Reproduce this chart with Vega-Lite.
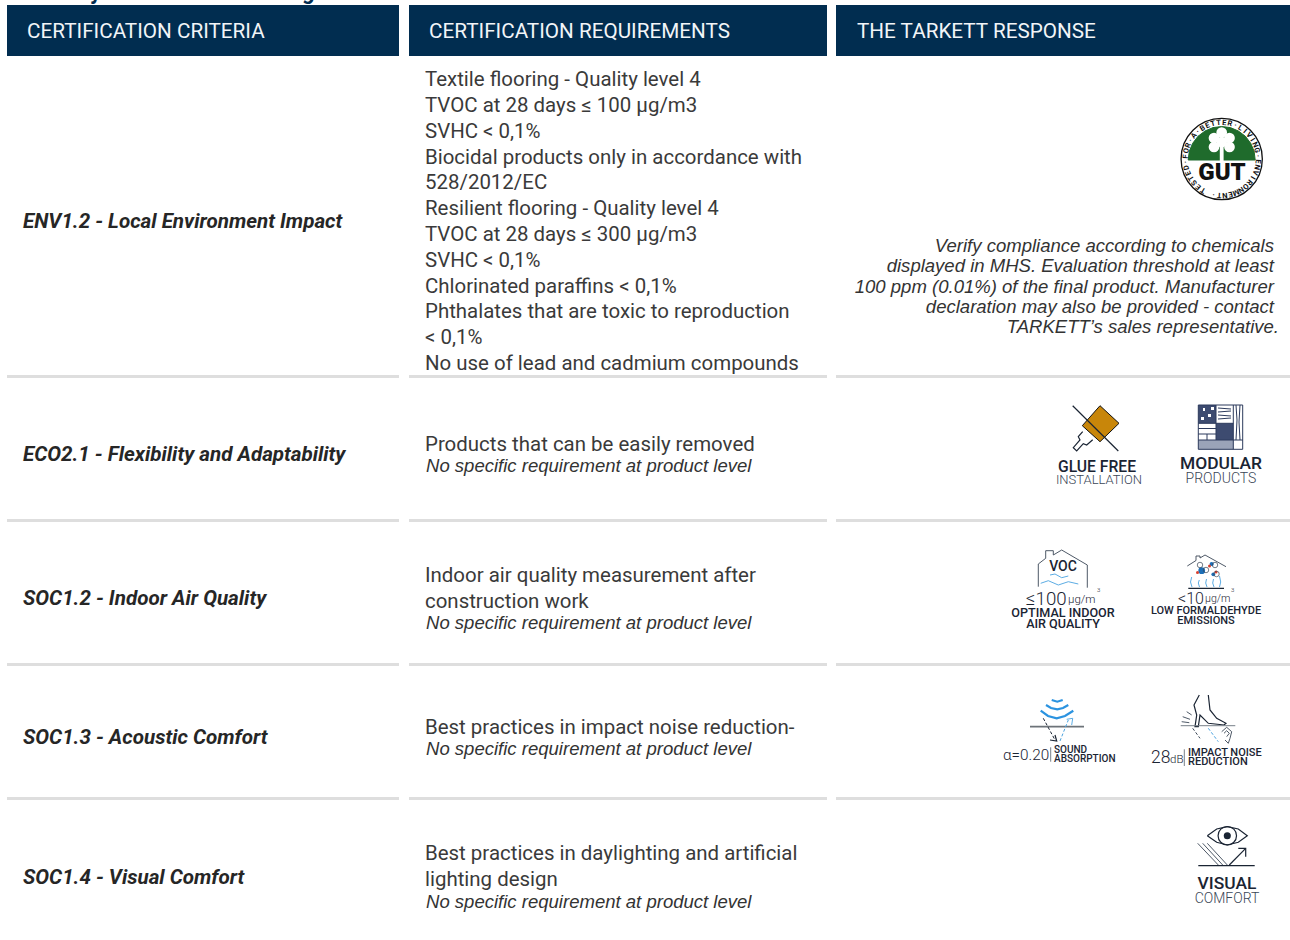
{
"$schema":"https://vega.github.io/schema/vega-lite/v6.json",
"width":1290,"height":940,"padding":0,"autosize":{"type":"none"},"background":"#ffffff",
"config":{"view":{"stroke":null}},
"resolve":{"scale":{"color":"independent","fill":"independent","size":"independent","strokeWidth":"independent"}},
"datasets":{
"panels":[
{"x":7,"x2":399,"y":5,"y2":56,"part":"head"},{"x":409,"x2":827,"y":5,"y2":56,"part":"head"},{"x":836,"x2":1290,"y":5,"y2":56,"part":"head"},
{"x":7,"x2":399,"y":375,"y2":378,"part":"rule"},{"x":409,"x2":827,"y":375,"y2":378,"part":"rule"},{"x":836,"x2":1290,"y":375,"y2":378,"part":"rule"},
{"x":7,"x2":399,"y":519,"y2":522,"part":"rule"},{"x":409,"x2":827,"y":519,"y2":522,"part":"rule"},{"x":836,"x2":1290,"y":519,"y2":522,"part":"rule"},
{"x":7,"x2":399,"y":663,"y2":666,"part":"rule"},{"x":409,"x2":827,"y":663,"y2":666,"part":"rule"},{"x":836,"x2":1290,"y":663,"y2":666,"part":"rule"},
{"x":7,"x2":399,"y":797,"y2":800,"part":"rule"},{"x":409,"x2":827,"y":797,"y2":800,"part":"rule"},{"x":836,"x2":1290,"y":797,"y2":800,"part":"rule"}
],
"tiles":[
{"x":1198.3,"x2":1216,"y":405,"y2":423.3,"part":"dark"},
{"x":1216,"x2":1233.3,"y":423.3,"y2":440,"part":"dark"},
{"x":1198.3,"x2":1233.3,"y":440,"y2":449.3,"part":"pale"},
{"x":1219.8,"x2":1223.6,"y":146,"y2":164,"part":"white"},
{"x":1203,"x2":1205,"y":408,"y2":411,"part":"white"},
{"x":1208,"x2":1211,"y":414,"y2":417,"part":"white"},
{"x":1201,"x2":1204,"y":417,"y2":420,"part":"white"},
{"x":1211,"x2":1214,"y":407,"y2":410,"part":"white"}
],
"discs":[
{"x":1227.3,"y":835.7,"kind":"pupil"}
],
"blobs":[
{"x":1221.7,"y":132.5,"kind":"leaf"},{"x":1214,"y":138,"kind":"leaf"},{"x":1229.5,"y":138,"kind":"leaf"},{"x":1214,"y":147,"kind":"leaf"},{"x":1229.5,"y":147,"kind":"leaf"},{"x":1221.7,"y":142,"kind":"leaf"},
{"x":1201.7,"y":570.7,"kind":"molBig"},{"x":1211.7,"y":564,"kind":"molMid"},{"x":1213.3,"y":574.3,"kind":"molSmall"},
{"x":1197.5,"y":572.5,"kind":"red"},{"x":1209.5,"y":566,"kind":"red"},{"x":1216,"y":572,"kind":"red"}
],
"rings":[
{"x":1221.7,"y":159,"kind":"seal"},
{"x":1227.3,"y":835.7,"kind":"iris"},
{"x":1200,"y":565,"kind":"bubble"},{"x":1215,"y":565,"kind":"bubble"},{"x":1206,"y":570,"kind":"bubble"},{"x":1216.5,"y":574,"kind":"bubble"}
],
"fills":[
{"seg":"green","i":1,"x":1188.2,"y":160,"tone":"green"},{"seg":"green","i":2,"x":1189.3,"y":151.3,"tone":"green"},{"seg":"green","i":3,"x":1192.7,"y":143.3,"tone":"green"},{"seg":"green","i":4,"x":1198,"y":136.3,"tone":"green"},{"seg":"green","i":5,"x":1205,"y":131,"tone":"green"},{"seg":"green","i":6,"x":1213,"y":127.6,"tone":"green"},{"seg":"green","i":7,"x":1221.7,"y":126.5,"tone":"green"},{"seg":"green","i":8,"x":1230.4,"y":127.6,"tone":"green"},{"seg":"green","i":9,"x":1238.4,"y":131,"tone":"green"},{"seg":"green","i":10,"x":1245.4,"y":136.3,"tone":"green"},{"seg":"green","i":11,"x":1250.7,"y":143.3,"tone":"green"},{"seg":"green","i":12,"x":1254.1,"y":151.3,"tone":"green"},{"seg":"green","i":13,"x":1255.2,"y":160,"tone":"green"},{"seg":"green","i":14,"x":1188.2,"y":160,"tone":"green"},
{"seg":"glue","i":1,"x":1100,"y":405.7,"tone":"glue"},{"seg":"glue","i":2,"x":1119,"y":423.3,"tone":"glue"},{"seg":"glue","i":3,"x":1100,"y":441.7,"tone":"glue"},{"seg":"glue","i":4,"x":1082.3,"y":425.7,"tone":"glue"},{"seg":"glue","i":5,"x":1100,"y":405.7,"tone":"glue"}
],
"strokes":[
{"seg":"cross","i":1,"x":1072.7,"y":405.7,"pen":"ink"},{"seg":"cross","i":2,"x":1118.3,"y":451,"pen":"ink"},
{"seg":"nozzle","i":1,"x":1082.7,"y":431.7,"pen":"ink"},{"seg":"nozzle","i":2,"x":1078.3,"y":436.7,"pen":"ink"},{"seg":"nozzle","i":3,"x":1080,"y":440,"pen":"ink"},{"seg":"nozzle","i":4,"x":1073.3,"y":447.7,"pen":"ink"},{"seg":"nozzle","i":5,"x":1076.7,"y":451,"pen":"ink"},{"seg":"nozzle","i":6,"x":1083.3,"y":443.7,"pen":"ink"},{"seg":"nozzle","i":7,"x":1086.7,"y":445,"pen":"ink"},{"seg":"nozzle","i":8,"x":1092.7,"y":439.7,"pen":"ink"},
{"seg":"mod1","i":1,"x":1198.3,"y":405,"pen":"navy"},{"seg":"mod1","i":2,"x":1242.7,"y":405,"pen":"navy"},{"seg":"mod1","i":3,"x":1242.7,"y":449.3,"pen":"navy"},{"seg":"mod1","i":4,"x":1198.3,"y":449.3,"pen":"navy"},{"seg":"mod1","i":5,"x":1198.3,"y":405,"pen":"navy"},
{"seg":"mod2","i":1,"x":1233.3,"y":405,"pen":"navy"},{"seg":"mod2","i":2,"x":1233.3,"y":449.3,"pen":"navy"},
{"seg":"mod3","i":1,"x":1216,"y":405,"pen":"navy"},{"seg":"mod3","i":2,"x":1216,"y":440,"pen":"navy"},
{"seg":"mod4","i":1,"x":1198.3,"y":423.3,"pen":"navy"},{"seg":"mod4","i":2,"x":1233.3,"y":423.3,"pen":"navy"},
{"seg":"mod5","i":1,"x":1198.3,"y":440,"pen":"navy"},{"seg":"mod5","i":2,"x":1242.7,"y":440,"pen":"navy"},
{"seg":"mod6","i":1,"x":1198.3,"y":428.5,"pen":"navy"},{"seg":"mod6","i":2,"x":1216,"y":428.5,"pen":"navy"},
{"seg":"mod7","i":1,"x":1198.3,"y":434,"pen":"navy"},{"seg":"mod7","i":2,"x":1216,"y":434,"pen":"navy"},
{"seg":"mod8","i":1,"x":1207,"y":434,"pen":"navy"},{"seg":"mod8","i":2,"x":1207,"y":440,"pen":"navy"},
{"seg":"mod9","i":1,"x":1218,"y":408,"pen":"navy"},{"seg":"mod9","i":2,"x":1231,"y":409,"pen":"navy"},
{"seg":"mod10","i":1,"x":1218,"y":412,"pen":"navy"},{"seg":"mod10","i":2,"x":1231,"y":411,"pen":"navy"},
{"seg":"mod11","i":1,"x":1218,"y":415,"pen":"navy"},{"seg":"mod11","i":2,"x":1231,"y":416,"pen":"navy"},
{"seg":"mod12","i":1,"x":1218,"y":419,"pen":"navy"},{"seg":"mod12","i":2,"x":1231,"y":418,"pen":"navy"},
{"seg":"mod13","i":1,"x":1236,"y":405,"pen":"navy"},{"seg":"mod13","i":2,"x":1237,"y":420,"pen":"navy"},{"seg":"mod13","i":3,"x":1236,"y":440,"pen":"navy"},
{"seg":"mod14","i":1,"x":1240,"y":405,"pen":"navy"},{"seg":"mod14","i":2,"x":1239,"y":422,"pen":"navy"},{"seg":"mod14","i":3,"x":1240,"y":440,"pen":"navy"},
{"seg":"house","i":1,"x":1038.3,"y":586.7,"pen":"slate"},{"seg":"house","i":2,"x":1038.3,"y":564,"pen":"slate"},{"seg":"house","i":3,"x":1045.7,"y":558.3,"pen":"slate"},{"seg":"house","i":4,"x":1045.7,"y":550.7,"pen":"slate"},{"seg":"house","i":5,"x":1053.3,"y":550.7,"pen":"slate"},{"seg":"house","i":6,"x":1053.3,"y":555,"pen":"slate"},{"seg":"house","i":7,"x":1061.7,"y":550,"pen":"slate"},{"seg":"house","i":8,"x":1087.3,"y":565,"pen":"slate"},{"seg":"house","i":9,"x":1087.3,"y":587.7,"pen":"slate"},
{"seg":"wave1","i":1,"x":1050,"y":575,"pen":"blue"},{"seg":"wave1","i":2,"x":1055,"y":574,"pen":"blue"},{"seg":"wave1","i":3,"x":1061.7,"y":577.7,"pen":"blue"},{"seg":"wave1","i":4,"x":1068.3,"y":576,"pen":"blue"},
{"seg":"wave2","i":1,"x":1040.7,"y":583.3,"pen":"blue"},{"seg":"wave2","i":2,"x":1048.3,"y":580.7,"pen":"blue"},{"seg":"wave2","i":3,"x":1058.3,"y":585,"pen":"blue"},{"seg":"wave2","i":4,"x":1068.3,"y":581.7,"pen":"blue"},{"seg":"wave2","i":5,"x":1078.3,"y":584,"pen":"blue"},
{"seg":"roof","i":1,"x":1187.3,"y":566,"pen":"slate"},{"seg":"roof","i":2,"x":1196,"y":560.5,"pen":"slate"},{"seg":"roof","i":3,"x":1196,"y":556,"pen":"slate"},{"seg":"roof","i":4,"x":1200,"y":556,"pen":"slate"},{"seg":"roof","i":5,"x":1200,"y":558,"pen":"slate"},{"seg":"roof","i":6,"x":1205,"y":555,"pen":"slate"},{"seg":"roof","i":7,"x":1226,"y":566.7,"pen":"slate"},
{"seg":"floorA","i":1,"x":1188.3,"y":588.3,"pen":"ink"},{"seg":"floorA","i":2,"x":1224,"y":588.3,"pen":"ink"},
{"seg":"v1","i":1,"x":1191.7,"y":577,"pen":"blue"},{"seg":"v1","i":2,"x":1190.5,"y":582,"pen":"blue"},{"seg":"v1","i":3,"x":1192,"y":587,"pen":"blue"},
{"seg":"v2","i":1,"x":1199.3,"y":580,"pen":"blue"},{"seg":"v2","i":2,"x":1198.3,"y":583,"pen":"blue"},{"seg":"v2","i":3,"x":1199.5,"y":587,"pen":"blue"},
{"seg":"v3","i":1,"x":1206.5,"y":579,"pen":"blue"},{"seg":"v3","i":2,"x":1205.7,"y":583,"pen":"blue"},{"seg":"v3","i":3,"x":1207,"y":587,"pen":"blue"},
{"seg":"v4","i":1,"x":1213.5,"y":579,"pen":"blue"},{"seg":"v4","i":2,"x":1212.7,"y":583,"pen":"blue"},{"seg":"v4","i":3,"x":1214,"y":587,"pen":"blue"},
{"seg":"v5","i":1,"x":1219.5,"y":576,"pen":"blue"},{"seg":"v5","i":2,"x":1220.7,"y":582,"pen":"blue"},{"seg":"v5","i":3,"x":1219.5,"y":587,"pen":"blue"},
{"seg":"arc1","i":1,"x":1040.7,"y":710.7,"pen":"blueBold"},{"seg":"arc1","i":2,"x":1048,"y":716,"pen":"blueBold"},{"seg":"arc1","i":3,"x":1056.7,"y":718.3,"pen":"blueBold"},{"seg":"arc1","i":4,"x":1065,"y":716,"pen":"blueBold"},{"seg":"arc1","i":5,"x":1073.3,"y":710.7,"pen":"blueBold"},
{"seg":"arc2","i":1,"x":1046,"y":705,"pen":"blueBold"},{"seg":"arc2","i":2,"x":1051,"y":708,"pen":"blueBold"},{"seg":"arc2","i":3,"x":1057.3,"y":709.3,"pen":"blueBold"},{"seg":"arc2","i":4,"x":1063,"y":708,"pen":"blueBold"},{"seg":"arc2","i":5,"x":1068.3,"y":705,"pen":"blueBold"},
{"seg":"arc3","i":1,"x":1051.7,"y":700,"pen":"blueBold"},{"seg":"arc3","i":2,"x":1057.3,"y":701.7,"pen":"blueBold"},{"seg":"arc3","i":3,"x":1062.7,"y":700,"pen":"blueBold"},
{"seg":"floorB","i":1,"x":1030,"y":726.7,"pen":"grayBold"},{"seg":"floorB","i":2,"x":1084,"y":726.7,"pen":"grayBold"},
{"seg":"headB","i":1,"x":1050,"y":740,"pen":"ink"},{"seg":"headB","i":2,"x":1056.7,"y":741,"pen":"ink"},{"seg":"headB","i":3,"x":1055,"y":735,"pen":"ink"},
{"seg":"headC","i":1,"x":1066.7,"y":719.3,"pen":"blue"},{"seg":"headC","i":2,"x":1072.7,"y":718.3,"pen":"blue"},{"seg":"headC","i":3,"x":1071.7,"y":725,"pen":"blue"},
{"seg":"divA","i":1,"x":1050.7,"y":747.3,"pen":"gray"},{"seg":"divA","i":2,"x":1050.7,"y":761.7,"pen":"gray"},
{"seg":"divB","i":1,"x":1184.3,"y":749.3,"pen":"gray"},{"seg":"divB","i":2,"x":1184.3,"y":766,"pen":"gray"},
{"seg":"shoe","i":1,"x":1199.3,"y":695,"pen":"ink"},{"seg":"shoe","i":2,"x":1194,"y":705,"pen":"ink"},{"seg":"shoe","i":3,"x":1196.7,"y":715,"pen":"ink"},{"seg":"shoe","i":4,"x":1195,"y":726.7,"pen":"ink"},{"seg":"shoe","i":5,"x":1198.3,"y":726.7,"pen":"ink"},{"seg":"shoe","i":6,"x":1200,"y":715,"pen":"ink"},{"seg":"shoe","i":7,"x":1208.3,"y":723.3,"pen":"ink"},{"seg":"shoe","i":8,"x":1224,"y":725,"pen":"ink"},{"seg":"shoe","i":9,"x":1226,"y":723.3,"pen":"ink"},{"seg":"shoe","i":10,"x":1216.7,"y":718.3,"pen":"ink"},{"seg":"shoe","i":11,"x":1210,"y":710,"pen":"ink"},{"seg":"shoe","i":12,"x":1208.3,"y":695,"pen":"ink"},
{"seg":"floorC","i":1,"x":1180.7,"y":725.7,"pen":"gray"},{"seg":"floorC","i":2,"x":1235.3,"y":725.7,"pen":"gray"},
{"seg":"tick1","i":1,"x":1186.7,"y":711.7,"pen":"slate"},{"seg":"tick1","i":2,"x":1191.7,"y":715,"pen":"slate"},
{"seg":"tick2","i":1,"x":1182.7,"y":716.7,"pen":"slate"},{"seg":"tick2","i":2,"x":1190,"y":719.3,"pen":"slate"},
{"seg":"tick3","i":1,"x":1181.7,"y":721.7,"pen":"slate"},{"seg":"tick3","i":2,"x":1189.3,"y":722.7,"pen":"slate"},
{"seg":"ear","i":1,"x":1221.7,"y":731.7,"pen":"slate"},{"seg":"ear","i":2,"x":1226.7,"y":727.3,"pen":"slate"},{"seg":"ear","i":3,"x":1231.7,"y":731.7,"pen":"slate"},{"seg":"ear","i":4,"x":1230,"y":738.3,"pen":"slate"},{"seg":"ear","i":5,"x":1228.3,"y":743.3,"pen":"slate"},{"seg":"ear","i":6,"x":1225,"y":740,"pen":"slate"},
{"seg":"earIn","i":1,"x":1224,"y":733.3,"pen":"slate"},{"seg":"earIn","i":2,"x":1226.7,"y":730.7,"pen":"slate"},{"seg":"earIn","i":3,"x":1229.3,"y":733.3,"pen":"slate"},{"seg":"earIn","i":4,"x":1226.7,"y":736.7,"pen":"slate"},
{"seg":"eye","i":1,"x":1207.3,"y":835.7,"pen":"ink"},{"seg":"eye","i":2,"x":1216.7,"y":829,"pen":"ink"},{"seg":"eye","i":3,"x":1227.3,"y":826.7,"pen":"ink"},{"seg":"eye","i":4,"x":1238.3,"y":829,"pen":"ink"},{"seg":"eye","i":5,"x":1247.3,"y":835.7,"pen":"ink"},{"seg":"eye","i":6,"x":1238.3,"y":842.3,"pen":"ink"},{"seg":"eye","i":7,"x":1227.3,"y":845,"pen":"ink"},{"seg":"eye","i":8,"x":1216.7,"y":842.3,"pen":"ink"},{"seg":"eye","i":9,"x":1207.3,"y":835.7,"pen":"ink"},
{"seg":"ray1","i":1,"x":1197.7,"y":843.3,"pen":"slate"},{"seg":"ray1","i":2,"x":1218.3,"y":865,"pen":"slate"},
{"seg":"ray2","i":1,"x":1202.7,"y":843.3,"pen":"slate"},{"seg":"ray2","i":2,"x":1222.7,"y":865,"pen":"slate"},
{"seg":"ray3","i":1,"x":1207.3,"y":843.3,"pen":"slate"},{"seg":"ray3","i":2,"x":1227.3,"y":865,"pen":"slate"},
{"seg":"floorD","i":1,"x":1198.3,"y":865.7,"pen":"ink"},{"seg":"floorD","i":2,"x":1254.7,"y":865.7,"pen":"ink"},
{"seg":"arrow","i":1,"x":1229.3,"y":865,"pen":"ink"},{"seg":"arrow","i":2,"x":1245.7,"y":848.3,"pen":"ink"},
{"seg":"arrowH","i":1,"x":1238.3,"y":848.3,"pen":"ink"},{"seg":"arrowH","i":2,"x":1245.7,"y":848.3,"pen":"ink"},{"seg":"arrowH","i":3,"x":1245.7,"y":856.7,"pen":"ink"}
],
"dashes":[
{"seg":"d1","i":1,"x":1043.3,"y":718.3,"pen":"ink"},{"seg":"d1","i":2,"x":1055,"y":740,"pen":"ink"},
{"seg":"d2","i":1,"x":1060,"y":741,"pen":"blue"},{"seg":"d2","i":2,"x":1068.3,"y":720,"pen":"blue"},
{"seg":"d3","i":1,"x":1192.7,"y":728.3,"pen":"slate"},{"seg":"d3","i":2,"x":1200,"y":738.3,"pen":"slate"},
{"seg":"d4","i":1,"x":1208.3,"y":728.3,"pen":"blue"},{"seg":"d4","i":2,"x":1218.3,"y":741.7,"pen":"blue"}
],
"seal":[
{"c":"T","x":1203.2,"y":189.9,"turn":211},{"c":"E","x":1198.6,"y":186.6,"turn":220},{"c":"S","x":1194.5,"y":182.6,"turn":229},{"c":"T","x":1191.2,"y":178.1,"turn":238},{"c":"E","x":1188.6,"y":173.1,"turn":247},{"c":"D","x":1186.8,"y":167.7,"turn":256},{"c":"·","x":1185.8,"y":162.1,"turn":265},{"c":"F","x":1185.8,"y":156.5,"turn":274},{"c":"O","x":1186.6,"y":150.9,"turn":283},{"c":"R","x":1188.3,"y":145.5,"turn":292},{"c":"·","x":1190.8,"y":140.5,"turn":301},{"c":"A","x":1194.1,"y":135.9,"turn":310},{"c":"·","x":1198.1,"y":131.8,"turn":319},{"c":"B","x":1202.6,"y":128.5,"turn":328},{"c":"E","x":1207.6,"y":125.8,"turn":337},{"c":"T","x":1213,"y":124.1,"turn":346},{"c":"T","x":1218.6,"y":123.1,"turn":355},{"c":"E","x":1224.2,"y":123.1,"turn":4},{"c":"R","x":1229.8,"y":123.9,"turn":13},{"c":"·","x":1235.2,"y":125.6,"turn":22},{"c":"L","x":1240.2,"y":128.1,"turn":31},{"c":"I","x":1244.8,"y":131.4,"turn":40},{"c":"V","x":1248.9,"y":135.4,"turn":49},{"c":"I","x":1252.2,"y":139.9,"turn":58},{"c":"N","x":1254.8,"y":144.9,"turn":67},{"c":"G","x":1256.6,"y":150.3,"turn":76},{"c":"·","x":1257.6,"y":155.9,"turn":85},{"c":"E","x":1257.6,"y":161.5,"turn":94},{"c":"N","x":1256.8,"y":167.1,"turn":103},{"c":"V","x":1255.1,"y":172.5,"turn":112},{"c":"I","x":1252.6,"y":177.5,"turn":121},{"c":"R","x":1249.3,"y":182.1,"turn":130},{"c":"O","x":1245.3,"y":186.2,"turn":139},{"c":"N","x":1240.8,"y":189.5,"turn":148},{"c":"M","x":1235.8,"y":192.2,"turn":157},{"c":"E","x":1230.4,"y":193.9,"turn":166},{"c":"N","x":1224.8,"y":194.9,"turn":175},{"c":"T","x":1219.2,"y":194.9,"turn":184},{"c":"·","x":1213.6,"y":194.1,"turn":193}
],
"texts":[
{"t":"y","x":90,"y":-1,"role":"title"},{"t":"g","x":302,"y":-1,"role":"title"},
{"t":"CERTIFICATION CRITERIA","x":27,"y":31.5,"role":"header"},{"t":"CERTIFICATION REQUIREMENTS","x":429,"y":31.5,"role":"header"},{"t":"THE TARKETT RESPONSE","x":857,"y":31.5,"role":"header"},
{"t":"ENV1.2 - Local Environment Impact","x":23,"y":222,"role":"criteria"},
{"t":"ECO2.1 - Flexibility and Adaptability","x":23,"y":455,"role":"criteria"},
{"t":"SOC1.2 - Indoor Air Quality","x":23,"y":599,"role":"criteria"},
{"t":"SOC1.3 - Acoustic Comfort","x":23,"y":738,"role":"criteria"},
{"t":"SOC1.4 - Visual Comfort","x":23,"y":878,"role":"criteria"},
{"t":"Textile flooring - Quality level 4","x":425,"y":80,"role":"body"},
{"t":"TVOC at 28 days ≤ 100 µg/m3","x":425,"y":106,"role":"body"},
{"t":"SVHC < 0,1%","x":425,"y":132,"role":"body"},
{"t":"Biocidal products only in accordance with","x":425,"y":158,"role":"body"},
{"t":"528/2012/EC","x":425,"y":183,"role":"body"},
{"t":"Resilient flooring - Quality level 4","x":425,"y":209,"role":"body"},
{"t":"TVOC at 28 days ≤ 300 µg/m3","x":425,"y":235,"role":"body"},
{"t":"SVHC < 0,1%","x":425,"y":261,"role":"body"},
{"t":"Chlorinated paraffins < 0,1%","x":425,"y":287,"role":"body"},
{"t":"Phthalates that are toxic to reproduction","x":425,"y":312,"role":"body"},
{"t":"< 0,1%","x":425,"y":338,"role":"body"},
{"t":"No use of lead and cadmium compounds","x":425,"y":364,"role":"body"},
{"t":"Products that can be easily removed","x":425,"y":445,"role":"body"},
{"t":"No specific requirement at product level","x":426,"y":466,"role":"note"},
{"t":"Indoor air quality measurement after","x":425,"y":576,"role":"body"},
{"t":"construction work","x":425,"y":602,"role":"body"},
{"t":"No specific requirement at product level","x":426,"y":623,"role":"note"},
{"t":"Best practices in impact noise reduction-","x":425,"y":728,"role":"body"},
{"t":"No specific requirement at product level","x":426,"y":749,"role":"note"},
{"t":"Best practices in daylighting and artificial","x":425,"y":854,"role":"body"},
{"t":"lighting design","x":425,"y":880,"role":"body"},
{"t":"No specific requirement at product level","x":426,"y":902,"role":"note"},
{"t":"Verify compliance according to chemicals","x":1274,"y":246,"role":"noteRight"},
{"t":"displayed in MHS. Evaluation threshold at least","x":1274,"y":266,"role":"noteRight"},
{"t":"100 ppm (0.01%) of the final product. Manufacturer","x":1274,"y":287,"role":"noteRight"},
{"t":"declaration may also be provided - contact","x":1274,"y":307,"role":"noteRight"},
{"t":"TARKETT’s sales representative.","x":1279,"y":327,"role":"noteRight"},
{"t":"GUT","x":1222,"y":173,"role":"gut"},
{"t":"GLUE FREE","x":1097,"y":467,"role":"strong","tier":"c"},
{"t":"MODULAR","x":1221,"y":464,"role":"strong","tier":"e"},
{"t":"VOC","x":1063,"y":567,"role":"strong","tier":"d"},
{"t":"OPTIMAL INDOOR","x":1063,"y":613,"role":"strong","tier":"b"},
{"t":"AIR QUALITY","x":1063,"y":624,"role":"strong","tier":"b"},
{"t":"LOW FORMALDEHYDE","x":1206,"y":611,"role":"strong","tier":"a"},
{"t":"EMISSIONS","x":1206,"y":621,"role":"strong","tier":"a"},
{"t":"VISUAL","x":1227,"y":884,"role":"strong","tier":"e"},
{"t":"INSTALLATION","x":1099,"y":480,"role":"light","tier":"i"},
{"t":"PRODUCTS","x":1221,"y":479,"role":"light","tier":"d"},
{"t":"COMFORT","x":1227,"y":899,"role":"light","tier":"d"},
{"t":"≤100","x":1026,"y":599,"role":"lightLeft","tier":"g"},
{"t":"µg/m","x":1068,"y":599.5,"role":"lightLeft","tier":"j"},
{"t":"3","x":1097,"y":590,"role":"lightLeft","tier":"z"},
{"t":"<10","x":1178,"y":598.5,"role":"lightLeft","tier":"k"},
{"t":"µg/m","x":1205,"y":599,"role":"lightLeft","tier":"m"},
{"t":"3","x":1231,"y":590,"role":"lightLeft","tier":"z"},
{"t":"α=0.20","x":1003,"y":755,"role":"lightLeft","tier":"n"},
{"t":"28","x":1151,"y":758,"role":"lightLeft","tier":"f"},
{"t":"dB","x":1170,"y":760,"role":"lightLeft","tier":"j"},
{"t":"SOUND","x":1054,"y":750,"role":"strongLeft","tier":"y"},
{"t":"ABSORPTION","x":1054,"y":759,"role":"strongLeft","tier":"y"},
{"t":"IMPACT NOISE","x":1188,"y":753,"role":"strongLeft","tier":"a"},
{"t":"REDUCTION","x":1188,"y":762,"role":"strongLeft","tier":"a"}
]
},
"encoding":{
"x":{"field":"x","type":"quantitative","axis":null,"scale":{"domain":[0,1290],"range":[0,1290],"nice":false,"zero":false}},
"y":{"field":"y","type":"quantitative","axis":null,"scale":{"domain":[0,940],"range":[0,940],"nice":false,"zero":false}}
},
"layer":[
{"data":{"name":"panels"},"mark":{"type":"rect"},"encoding":{"x2":{"field":"x2"},"y2":{"field":"y2"},"fill":{"field":"part","type":"nominal","legend":null,"scale":{"domain":["head","rule"],"range":["#012d50","#dedede"]}}}},
{"data":{"name":"rings"},"transform":[{"filter":"datum.kind==='seal'"}],"mark":{"type":"point","filled":false,"opacity":1,"stroke":"#111111","strokeWidth":1.3,"size":6600}},
{"data":{"name":"fills"},"mark":{"type":"line","fill":"#c8860a","stroke":"#111111","strokeWidth":1},"transform":[{"filter":"datum.tone==='glue'"}],"encoding":{"detail":{"field":"seg"},"order":{"field":"i","type":"quantitative"}}},
{"data":{"name":"fills"},"mark":{"type":"line","fill":"#1f6b2c","stroke":"#1f6b2c","strokeWidth":1},"transform":[{"filter":"datum.tone==='green'"}],"encoding":{"detail":{"field":"seg"},"order":{"field":"i","type":"quantitative"}}},
{"data":{"name":"blobs"},"mark":{"type":"point","filled":true,"opacity":1},"encoding":{"size":{"field":"kind","legend":null,"scale":{"type":"ordinal","domain":["leaf","molBig","molMid","molSmall","red"],"range":[115,46,18,14,9]}},"color":{"field":"kind","type":"nominal","legend":null,"scale":{"domain":["leaf","molBig","molMid","molSmall","red"],"range":["#ffffff","#1c6fb8","#1c6fb8","#1c6fb8","#d8402e"]}}}},
{"data":{"name":"tiles"},"mark":{"type":"rect"},"encoding":{"x2":{"field":"x2"},"y2":{"field":"y2"},"fill":{"field":"part","type":"nominal","legend":null,"scale":{"domain":["dark","pale","white"],"range":["#3d4b70","#9aa3b8","#ffffff"]}}}},
{"data":{"name":"rings"},"transform":[{"filter":"datum.kind==='iris'"}],"mark":{"type":"point","filled":false,"opacity":1,"stroke":"#1a2433","strokeWidth":1.2,"size":340}},
{"data":{"name":"rings"},"transform":[{"filter":"datum.kind==='bubble'"}],"mark":{"type":"point","filled":false,"opacity":1,"stroke":"#3a4656","strokeWidth":0.7,"size":30}},
{"data":{"name":"discs"},"transform":[{"filter":"datum.kind==='pupil'"}],"mark":{"type":"point","filled":true,"opacity":1,"fill":"#1a2433","size":50}},
{"data":{"name":"strokes"},"mark":{"type":"line"},"encoding":{"detail":{"field":"seg"},"order":{"field":"i","type":"quantitative"},"color":{"field":"pen","type":"nominal","legend":null,"scale":{"domain":["ink","navy","slate","blue","blueBold","gray","grayBold"],"range":["#1a2433","#2c3a5c","#3a4656","#4aa3e0","#2b93e0","#777f88","#6d7379"]}},"strokeWidth":{"field":"pen","legend":null,"scale":{"type":"ordinal","domain":["ink","navy","slate","blue","blueBold","gray","grayBold"],"range":[1.2,1,0.9,0.9,2.2,1,1.8]}}}},
{"data":{"name":"dashes"},"mark":{"type":"line","strokeDash":[3,2],"strokeWidth":1},"encoding":{"detail":{"field":"seg"},"order":{"field":"i","type":"quantitative"},"color":{"field":"pen","type":"nominal","legend":null,"scale":{"domain":["ink","slate","blue"],"range":["#1a2433","#3a4656","#4aa3e0"]}}}},
{"data":{"name":"seal"},"mark":{"type":"text","font":"Roboto","fontWeight":700,"fontSize":7.5,"fill":"#111111","align":"center","baseline":"middle"},"encoding":{"text":{"field":"c"},"angle":{"field":"turn","type":"quantitative","scale":null}}},
{"data":{"name":"texts"},"transform":[{"filter":"datum.role==='title'"}],"mark":{"type":"text","font":"Roboto","fontWeight":700,"fontSize":22,"fill":"#012d50","align":"left","baseline":"alphabetic"},"encoding":{"text":{"field":"t"}}},
{"data":{"name":"texts"},"transform":[{"filter":"datum.role==='header'"}],"mark":{"type":"text","font":"Roboto","fontSize":20.7,"fill":"#f2f5f8","align":"left","baseline":"middle"},"encoding":{"text":{"field":"t"}}},
{"data":{"name":"texts"},"transform":[{"filter":"datum.role==='criteria'"}],"mark":{"type":"text","font":"Roboto","fontWeight":700,"fontStyle":"italic","fontSize":20.6,"fill":"#262626","align":"left","baseline":"middle"},"encoding":{"text":{"field":"t"}}},
{"data":{"name":"texts"},"transform":[{"filter":"datum.role==='body'"}],"mark":{"type":"text","font":"Roboto","fontSize":20.45,"fill":"#3a3a3a","align":"left","baseline":"middle"},"encoding":{"text":{"field":"t"}}},
{"data":{"name":"texts"},"transform":[{"filter":"datum.role==='note'"}],"mark":{"type":"text","font":"Liberation Sans","fontStyle":"italic","fontSize":18.55,"fill":"#333333","align":"left","baseline":"middle"},"encoding":{"text":{"field":"t"}}},
{"data":{"name":"texts"},"transform":[{"filter":"datum.role==='noteRight'"}],"mark":{"type":"text","font":"Liberation Sans","fontStyle":"italic","fontSize":18.55,"fill":"#333333","align":"right","baseline":"middle"},"encoding":{"text":{"field":"t"}}},
{"data":{"name":"texts"},"transform":[{"filter":"datum.role==='gut'"}],"mark":{"type":"text","font":"Roboto","fontWeight":900,"fontSize":24,"fill":"#111111","align":"center","baseline":"middle"},"encoding":{"text":{"field":"t"}}},
{"data":{"name":"texts"},"transform":[{"filter":"datum.role==='strong'"}],"mark":{"type":"text","font":"Roboto","fontWeight":500,"fill":"#1a2433","align":"center","baseline":"middle"},"encoding":{"text":{"field":"t"},"size":{"field":"tier","legend":null,"scale":{"type":"ordinal","domain":["z","y","m","a","j","b","i","d","n","c","k","e","f","g"],"range":[6,10,10.6,11,11.5,12.6,13,14,15.3,15.7,16,17.4,17.5,18.7]}}}},
{"data":{"name":"texts"},"transform":[{"filter":"datum.role==='light'"}],"mark":{"type":"text","font":"Roboto","fontWeight":300,"fill":"#3a4656","align":"center","baseline":"middle"},"encoding":{"text":{"field":"t"},"size":{"field":"tier","legend":null,"scale":{"type":"ordinal","domain":["z","y","m","a","j","b","i","d","n","c","k","e","f","g"],"range":[6,10,10.6,11,11.5,12.6,13,14,15.3,15.7,16,17.4,17.5,18.7]}}}},
{"data":{"name":"texts"},"transform":[{"filter":"datum.role==='lightLeft'"}],"mark":{"type":"text","font":"Roboto","fontWeight":300,"fill":"#1a2433","align":"left","baseline":"middle"},"encoding":{"text":{"field":"t"},"size":{"field":"tier","legend":null,"scale":{"type":"ordinal","domain":["z","y","m","a","j","b","i","d","n","c","k","e","f","g"],"range":[6,10,10.6,11,11.5,12.6,13,14,15.3,15.7,16,17.4,17.5,18.7]}}}},
{"data":{"name":"texts"},"transform":[{"filter":"datum.role==='strongLeft'"}],"mark":{"type":"text","font":"Roboto","fontWeight":500,"fill":"#1a2433","align":"left","baseline":"middle"},"encoding":{"text":{"field":"t"},"size":{"field":"tier","legend":null,"scale":{"type":"ordinal","domain":["z","y","m","a","j","b","i","d","n","c","k","e","f","g"],"range":[6,10,10.6,11,11.5,12.6,13,14,15.3,15.7,16,17.4,17.5,18.7]}}}}
]
}
